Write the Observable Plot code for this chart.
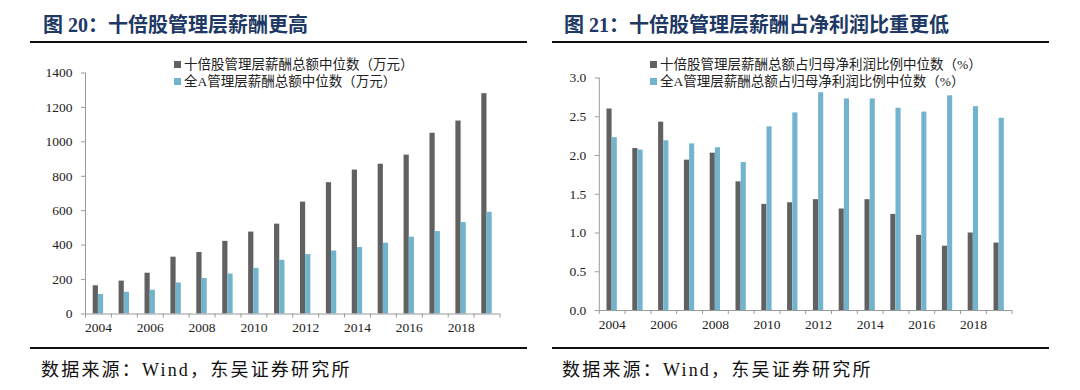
<!DOCTYPE html>
<html>
<head>
<meta charset="utf-8">
<script src="https://cdn.jsdelivr.net/npm/d3@7"></script>
<script src="https://cdn.jsdelivr.net/npm/@observablehq/plot@0.6"></script>
<style>
  html, body { margin: 0; padding: 0; background: #fff; }
  #wrap { position: relative; width: 1080px; height: 390px; overflow: hidden;
          font-family: "Liberation Serif", "Noto Sans CJK SC", serif; color: #111; }
  .panel { position: absolute; top: 0; width: 540px; height: 390px; }
  .title { position: absolute; top: 9px; font-size: 20px; font-weight: bold; color: #203864; white-space: nowrap; }
  .rule { position: absolute; height: 2px; background: #111; }
  .source { position: absolute; top: 355px; font-size: 18px; letter-spacing: 2.2px; color: #111; white-space: nowrap; }
  .legend { position: absolute; font-size: 13.5px; color: #222; white-space: nowrap; }
  .legend div { height: 16.7px; line-height: 16.7px; }
  .legend .sw { display: inline-block; width: 7px; height: 7px; margin-right: 3px; vertical-align: 1px; }
  .chart { position: absolute; left: 0; top: 0; }
</style>
</head>
<body>
<div id="wrap"></div>
<script>
// ---- data ----
const years = [2004, 2005, 2006, 2007, 2008, 2009, 2010, 2011, 2012, 2013, 2014, 2015, 2016, 2017, 2018, 2019];
const tenbaggerPay = [164, 191, 237, 330, 357, 422, 476, 522, 650, 763, 836, 870, 923, 1050, 1121, 1280];
const allAPay = [113, 126, 138, 180, 206, 232, 265, 312, 345, 366, 386, 411, 446, 479, 531, 591];
const tenbaggerRatio = [2.60, 2.09, 2.43, 1.94, 2.03, 1.66, 1.37, 1.39, 1.43, 1.31, 1.43, 1.24, 0.97, 0.83, 1.00, 0.87];
const allARatio = [2.23, 2.07, 2.19, 2.15, 2.10, 1.91, 2.37, 2.55, 2.81, 2.73, 2.73, 2.61, 2.56, 2.77, 2.63, 2.48];
const yearLabels = [2004, 2006, 2008, 2010, 2012, 2014, 2016, 2018];
const payTicks = [0, 200, 400, 600, 800, 1000, 1200, 1400];
const ratioTicks = [0, 0.5, 1.0, 1.5, 2.0, 2.5, 3.0];
const payLegend = ["十倍股管理层薪酬总额中位数（万元）", "全A管理层薪酬总额中位数（万元）"];
const ratioLegend = ["十倍股管理层薪酬总额占归母净利润比例中位数（%）", "全A管理层薪酬总额占归母净利润比例中位数（%）"];
const titles = ["图 20：十倍股管理层薪酬更高", "图 21：十倍股管理层薪酬占净利润比重更低"];
const sourceText = "数据来源：Wind，东吴证券研究所";

// ---- styles ----
const DARK = "#616161";
const LIGHT = "#72b3cd";
const AXIS = "#9a9a9a";

const wrap = document.getElementById("wrap");

function makePanel(cfg) {
  const panel = document.createElement("div");
  panel.className = "panel";
  panel.style.left = cfg.left + "px";
  wrap.appendChild(panel);

  const rows = years.map((year, i) => ({year, dark: cfg.dark[i], light: cfg.light[i]}));
  const x0 = years[0] - 0.5;
  const x1 = years[years.length - 1] + 0.5;
  const bounds = years.map(y => y - 0.5).concat([x1]);

  const chart = Plot.plot({
    width: 540,
    height: 345,
    marginLeft: cfg.margins[0],
    marginRight: cfg.margins[1],
    marginTop: cfg.margins[2],
    marginBottom: cfg.margins[3],
    x: {domain: [x0, x1], label: null},
    y: {domain: cfg.yDomain, label: null},
    style: {fontFamily: "'Liberation Serif', serif", fontSize: "13.5px", color: "#222", background: "transparent", overflow: "visible"},
    marks: [
      Plot.rect(rows, {x1: d => d.year - 0.5, x2: d => d.year + 0.5, y1: 0, y2: "dark", fill: DARK, insetLeft: 7.7, insetRight: 13}),
      Plot.rect(rows, {x1: d => d.year - 0.5, x2: d => d.year + 0.5, y1: 0, y2: "light", fill: LIGHT, insetLeft: 12.9, insetRight: 7.8}),
      Plot.ruleY([cfg.yDomain[0]], {stroke: AXIS}),
      Plot.ruleX([x0], {stroke: AXIS}),
      Plot.axisY(cfg.yTicks, {tickSize: 4, tickPadding: 9, tickFormat: cfg.fmt, stroke: AXIS, fill: "#222", label: null}),
      Plot.axisX(bounds, {tickSize: 4, tickFormat: () => "", stroke: AXIS, label: null}),
      Plot.axisX(yearLabels, {tickSize: 0, tickPadding: cfg.labelPad, tickFormat: d => String(d), fill: "#222", label: null})
    ]
  });
  chart.classList.add("chart");
  panel.appendChild(chart);

  const title = document.createElement("div");
  title.className = "title";
  title.style.left = cfg.titleX + "px";
  title.textContent = cfg.title;
  panel.appendChild(title);

  const top = document.createElement("div");
  top.className = "rule";
  top.style.left = cfg.ruleX + "px";
  top.style.width = cfg.ruleW + "px";
  top.style.top = "41px";
  panel.appendChild(top);

  const bottom = document.createElement("div");
  bottom.className = "rule";
  bottom.style.left = cfg.ruleX + "px";
  bottom.style.width = cfg.ruleW + "px";
  bottom.style.top = "347px";
  panel.appendChild(bottom);

  const src = document.createElement("div");
  src.className = "source";
  src.style.left = cfg.sourceX + "px";
  src.textContent = sourceText;
  panel.appendChild(src);

  const lg = document.createElement("div");
  lg.className = "legend";
  lg.style.left = cfg.legendX + "px";
  lg.style.top = "57px";
  [[DARK, cfg.legend[0]], [LIGHT, cfg.legend[1]]].forEach(([c, t]) => {
    const row = document.createElement("div");
    const sw = document.createElement("span");
    sw.className = "sw";
    sw.style.background = c;
    row.appendChild(sw);
    row.appendChild(document.createTextNode(t));
    lg.appendChild(row);
  });
  panel.appendChild(lg);
}

makePanel({
  left: 0,
  dark: tenbaggerPay, light: allAPay,
  yDomain: [0, 1400], yTicks: payTicks, fmt: d => String(d),
  margins: [85, 40.5, 72.5, 31.5], labelPad: 8,
  title: titles[0], titleX: 43, ruleX: 30, ruleW: 497, sourceX: 41,
  legend: payLegend, legendX: 174
});

makePanel({
  left: 540,
  dark: tenbaggerRatio, light: allARatio,
  yDomain: [0, 3.0], yTicks: ratioTicks, fmt: d => d.toFixed(1),
  margins: [58.8, 68.4, 77.5, 35], labelPad: 9,
  title: titles[1], titleX: 24, ruleX: 12, ruleW: 497, sourceX: 22,
  legend: ratioLegend, legendX: 110
});
</script>
</body>
</html>
